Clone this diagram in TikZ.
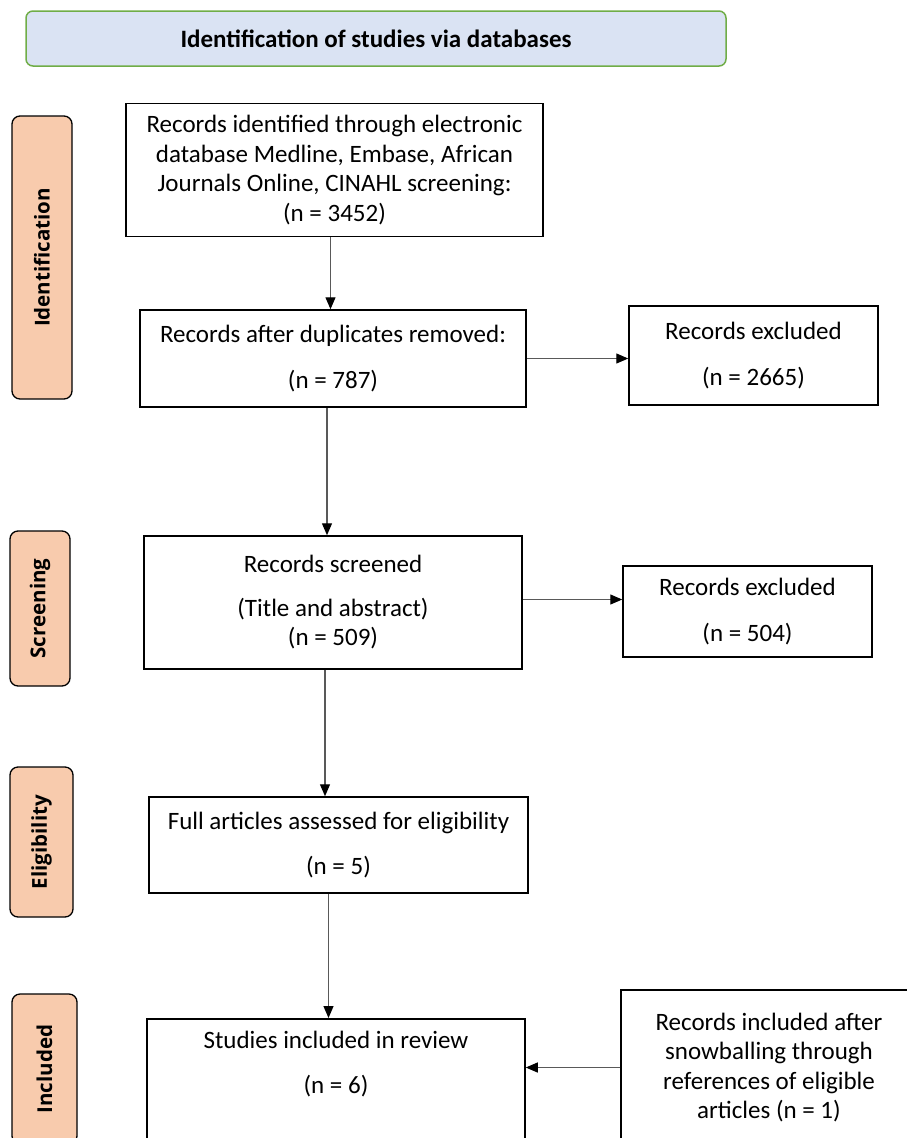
\documentclass[tikz,border=0pt]{standalone}
\usepackage{fontspec}
\setmainfont{Carlito}
\newfontfamily\sidefont{Open Sans}
\usepackage{tikz}
\usetikzlibrary{arrows.meta, positioning}
\definecolor{hblue}{HTML}{DAE3F3}
\definecolor{hgreen}{HTML}{70AD47}
\definecolor{speach}{HTML}{F8CBAD}
\definecolor{lgray}{HTML}{595959}

\begin{document}
\begin{tikzpicture}[x=1pt, y=-1pt,
  box/.style={draw=black, line width=1.5pt, align=center, inner sep=0pt,
    font=\fontsize{25}{29.5}\selectfont},
  stage/.style={draw=black, line width=1.3pt, fill=speach, rounded corners=8pt,
    minimum width=60pt, rotate=90, inner sep=0pt,
    font=\sidefont\bfseries\fontsize{20.5}{24}\selectfont},
  arr/.style={draw=lgray, line width=1.2pt, -{Triangle[length=12pt, width=10pt, color=black]}}]
\useasboundingbox (0,0) rectangle (906,1138);

% header
\node[draw=hgreen, fill=hblue, line width=1.5pt, rounded corners=7pt,
  minimum width=700pt, minimum height=55pt, font=\bfseries\fontsize{25}{29}\selectfont]
  (head) at (376,38.5) {Identification of studies via databases};

% stage labels
\node[stage, minimum width=283pt, minimum height=60pt] (sid) at (42,257.5) {Identification};
\node[stage, minimum width=155pt, minimum height=60pt] (sscr) at (40,608.5) {Screening};
\node[stage, minimum width=150pt, minimum height=63pt] (selig) at (41.5,842) {Eligibility};
\node[stage, minimum width=150pt, minimum height=65pt] (sinc) at (44.5,1069) {Included};

% main column
\node[box, minimum width=417pt, minimum height=133pt] (rec) at (334.5,170)
  {Records identified through electronic\\database Medline, Embase, African\\Journals Online, CINAHL screening:\\(n = 3452)};
\node[box, minimum width=386pt, minimum height=97pt] (dup) at (333,358.5)
  {Records after duplicates removed:\\[16pt](n = 787)};
\node[box, minimum width=378pt, minimum height=133pt] (scr) at (333,602.5)
  {Records screened\\[14pt](Title and abstract)\\(n = 509)};
\node[box, minimum width=379pt, minimum height=96pt] (elig) at (338.5,845)
  {Full articles assessed for eligibility\\[16pt](n = 5)};
\node[box, minimum width=378pt, anchor=north, inner ysep=12pt, text depth=70pt] (incl) at (336,1018)
  {Studies included in review\\[16pt](n = 6)};

% side column
\node[box, minimum width=249pt, minimum height=99pt] (exa) at (753.5,355.5)
  {Records excluded\\[16pt](n = 2665)};
\node[box, minimum width=249pt, minimum height=91pt] (exb) at (747.5,611.5)
  {Records excluded\\[16pt](n = 504)};
\node[box, minimum width=296pt, minimum height=155pt] (snow) at (769,1067.5)
  {Records included after\\snowballing through\\references of eligible\\articles (n = 1)};

% connectors
\draw[arr] ([xshift=-4pt]rec.south) -- ([xshift=-4pt]rec.south |- dup.north);
\draw[arr] ([xshift=-6pt]dup.south) -- ([xshift=-6pt]dup.south |- scr.north);
\draw[arr] ([xshift=-8pt]scr.south) -- ([xshift=-8pt]scr.south |- elig.north);
\draw[arr] ([xshift=-10pt]elig.south) -- ([xshift=-10pt]elig.south |- incl.north);
\draw[arr] (dup.east) -- (dup.east -| exa.west);
\draw[arr] ([yshift=3pt]scr.east) -- ([yshift=3pt]scr.east -| exb.west);
\draw[arr] (snow.west) -- (snow.west -| incl.east);
\end{tikzpicture}
\end{document}
